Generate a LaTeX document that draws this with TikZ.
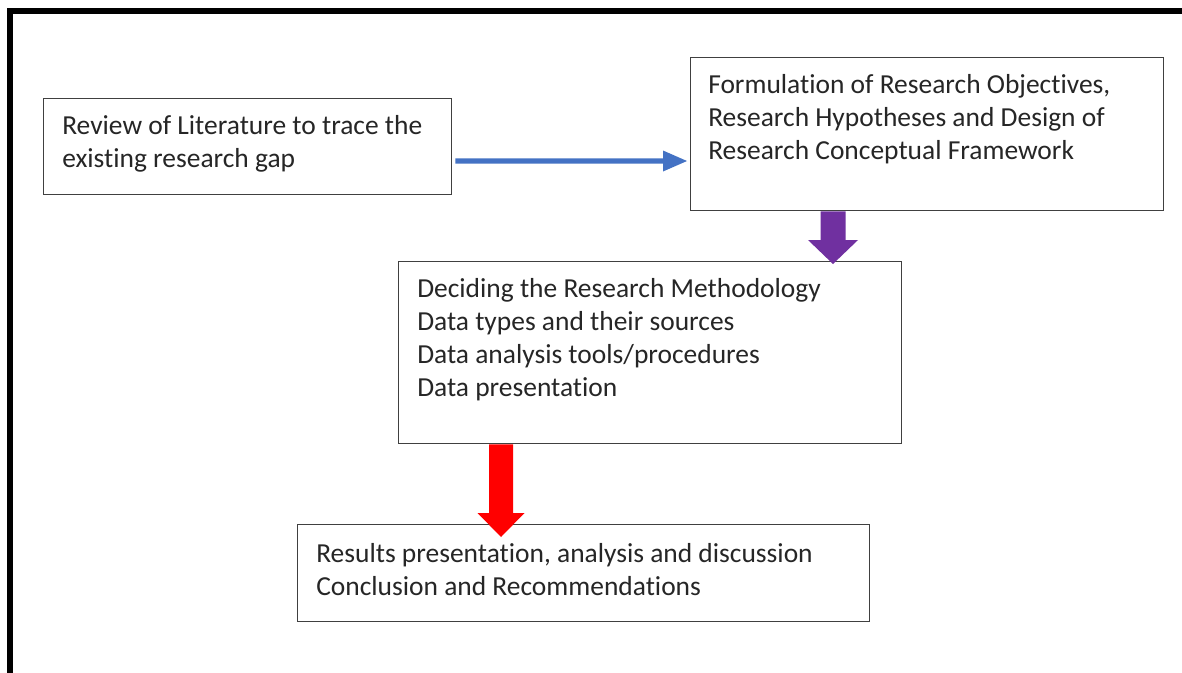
\documentclass[tikz,border=0pt]{standalone}
\usepackage{fontspec}
\setmainfont{Carlito}[RawFeature={-liga}]
\usetikzlibrary{calc}
\begin{document}
\begin{tikzpicture}[x=0.75pt,y=-0.75pt,
  stepbox/.style={draw=black!75,line width=1.1pt,inner sep=0pt,anchor=north west},
  txt/.style={anchor=west,align=left,inner sep=0pt,font=\fontsize{20.6}{24.75}\selectfont,text=black!85}]
\useasboundingbox (0,0) rectangle (1182,672);
\clip (0,0) rectangle (1182,672);
\fill[white] (0,0) rectangle (1182,672);
\draw[line width=4.5pt] (10,11) rectangle (1250,750);
% boxes
\node[stepbox,minimum width=408*0.75pt,minimum height=96*0.75pt] (b1) at (43,98) {};
\node[stepbox,minimum width=473*0.75pt,minimum height=153*0.75pt] (b2) at (690,57) {};
\node[stepbox,minimum width=503*0.75pt,minimum height=182*0.75pt] (b3) at (398,261) {};
\node[stepbox,minimum width=572*0.75pt,minimum height=97*0.75pt] (b4) at (297,524) {};
% texts
\node[txt] (t1) at (62,143.5) {Review of Literature to trace the\\existing research gap};
\node[txt] (t2) at (708,119) {Formulation of Research Objectives,\\Research Hypotheses and Design of\\Research Conceptual Framework};
\node[txt] (t3) at (417,339.5) {Deciding the Research Methodology\\Data types and their sources\\Data analysis tools/procedures\\Data presentation};
\node[txt] (t4) at (316,569.5) {Results presentation, analysis and discussion\\Conclusion and Recommendations};
% blue arrow
\coordinate (a1s) at ($(b1.north east)+(3,63)$);
\coordinate (a1e) at ($(b2.north west)+(-3,104)$);
\fill[color={rgb,255:red,68;green,114;blue,196}]
  ($(a1s)+(0,-2.7)$) -- ($(a1e)+(-24,-2.7)$) -- ($(a1e)+(-24,-10.5)$) -- (a1e)
  -- ($(a1e)+(-24,10.5)$) -- ($(a1e)+(-24,2.7)$) -- ($(a1s)+(0,2.7)$) -- cycle;
% purple arrow
\coordinate (a2s) at ($(b2.south west)+(143,0)$);
\coordinate (a2e) at ($(b3.north west)+(435,3)$);
\fill[color={rgb,255:red,112;green,48;blue,160}]
  ($(a2s)+(-12.5,0)$) -- ($(a2s)+(12.5,0)$) -- ($(a2e)+(12.5,-24)$) -- ($(a2e)+(25,-24)$)
  -- (a2e) -- ($(a2e)+(-25,-24)$) -- ($(a2e)+(-12.5,-24)$) -- cycle;
% red arrow
\coordinate (a3s) at ($(b3.south west)+(103,0)$);
\coordinate (a3e) at ($(b4.north west)+(204,13)$);
\fill[red]
  ($(a3s)+(-12,0)$) -- ($(a3s)+(12,0)$) -- ($(a3e)+(12,-24)$) -- ($(a3e)+(23.5,-24)$)
  -- (a3e) -- ($(a3e)+(-23.5,-24)$) -- ($(a3e)+(-12,-24)$) -- cycle;
\end{tikzpicture}
\end{document}
